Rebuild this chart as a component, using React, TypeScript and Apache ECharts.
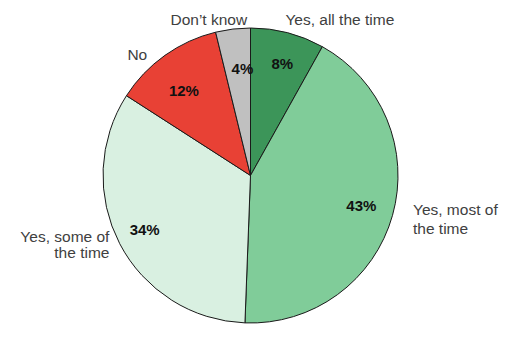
import React, { useEffect, useRef } from "react";
import * as echarts from "echarts";

const categories = ["Yes, all the time", "Yes, most of the time", "Yes, some of the time", "No", "Don’t know"];
const wrappedLabels = ["Yes, all the time", "Yes, most of\nthe time", "Yes, some of\nthe time", "No", "Don’t know"];
const shares = [8.1, 42.5, 33.5, 12.1, 3.8];
const colors = ["#3c9559", "#80cc99", "#d9f0e1", "#e84135", "#c0c0c0"];

const outerOffsets = [
  [-6, 1],
  [6, 0],
  [3, -6.5],
  [-9, 11],
  [16, 5],
];
const innerOffsets = [
  [2, 2],
  [-3, -2],
  [-1, -1],
  [2, 11],
  [6, 10],
];
const outerLineHeights = [17, 19, 16, 17, 17];

export default function App() {
  const ref = useRef<HTMLDivElement>(null);
  useEffect(() => {
    document.body.style.margin = "0";
    const chart = echarts.init(ref.current!, null, { renderer: "svg" });
    const font = "'Liberation Sans', Arial, sans-serif";
    chart.setOption({
      animation: false,
      backgroundColor: "#ffffff",
      series: [
        {
          type: "pie",
          center: [250.5, 175.5],
          radius: [0, 147.5],
          startAngle: 90,
          clockwise: true,
          avoidLabelOverlap: false,
          silent: true,
          itemStyle: { borderColor: "#1a1a1a", borderWidth: 1 },
          label: {
            show: true,
            position: "outside",
            distanceToLabelLine: 0,
            fontFamily: font,
            fontSize: 15.5,
            color: "#404040",
            formatter: (p: any) => wrappedLabels[p.dataIndex],
          },
          labelLine: { show: false, length: 15, length2: 0 },
          labelLayout: (p: any) => ({ dx: outerOffsets[p.dataIndex][0], dy: outerOffsets[p.dataIndex][1] }),
          data: categories.map((name, i) => ({
            name,
            value: shares[i],
            itemStyle: { color: colors[i] },
            label: { lineHeight: outerLineHeights[i] },
          })),
        },
        {
          type: "pie",
          center: [250.5, 175.5],
          radius: [83, 147.5],
          startAngle: 90,
          clockwise: true,
          silent: true,
          itemStyle: { color: "rgba(0,0,0,0)", borderWidth: 0 },
          label: {
            show: true,
            position: "inside",
            fontFamily: font,
            fontSize: 15,
            fontWeight: "bold",
            color: "#111111",
            formatter: (p: any) => Math.round(p.value) + "%",
          },
          labelLine: { show: false },
          labelLayout: (p: any) => ({ dx: innerOffsets[p.dataIndex][0], dy: innerOffsets[p.dataIndex][1] }),
          data: categories.map((name, i) => ({ name, value: shares[i] })),
        },
      ],
    });
    return () => chart.dispose();
  }, []);
  return <div ref={ref} style={{ width: 526, height: 339 }} />;
}
